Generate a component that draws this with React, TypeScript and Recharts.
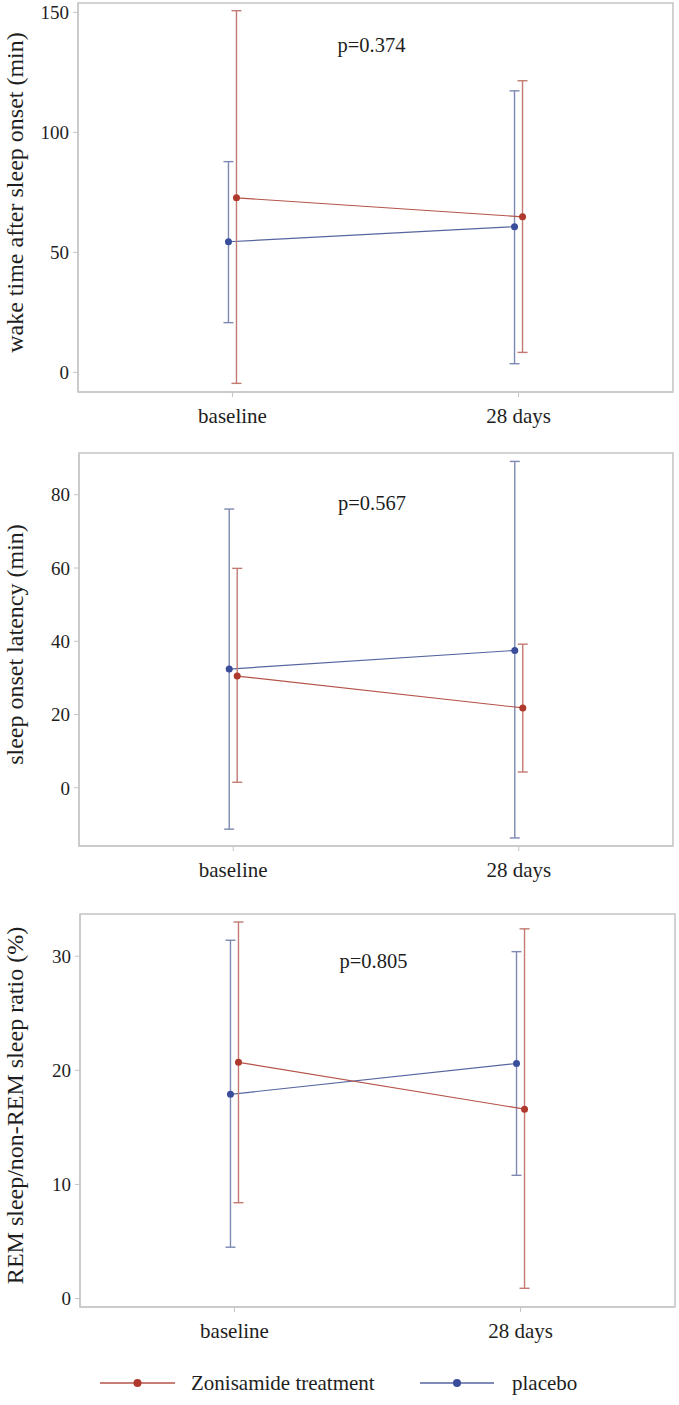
import { LineChart, Line, XAxis, YAxis, ErrorBar, ReferenceArea, ReferenceDot } from 'recharts';

const timepoints = ['baseline', '28 days'];
const seriesNames = ['Zonisamide treatment', 'placebo'];

// wake time after sleep onset (min)
const wasoZoniMean = [72.7, 64.8];
const wasoZoniLow = [-4.6, 8.3];
const wasoZoniHigh = [150.7, 121.5];
const wasoPlacMean = [54.4, 60.7];
const wasoPlacLow = [20.7, 3.6];
const wasoPlacHigh = [87.8, 117.3];
const wasoTicks = [0, 50, 100, 150];

// sleep onset latency (min)
const solZoniMean = [30.5, 21.8];
const solZoniLow = [1.5, 4.3];
const solZoniHigh = [59.9, 39.2];
const solPlacMean = [32.4, 37.5];
const solPlacLow = [-11.3, -13.7];
const solPlacHigh = [76.1, 89.1];
const solTicks = [0, 20, 40, 60, 80];

// REM / non-REM ratio (%)
const remZoniMean = [20.7, 16.6];
const remZoniLow = [8.4, 0.9];
const remZoniHigh = [33.0, 32.4];
const remPlacMean = [17.9, 20.6];
const remPlacLow = [4.5, 10.8];
const remPlacHigh = [31.4, 30.4];
const remTicks = [0, 10, 20, 30];

const pValues = ['p=0.374', 'p=0.567', 'p=0.805'];

const FONT = '"Liberation Serif", "Times New Roman", serif';
const TEXT = '#1e1e1e';
const FRAME = '#c4c4c4';
const ZONI = { marker: '#b0392d', line: '#b55349', err: '#c27a72' };
const PLAC = { marker: '#3a4d9b', line: '#56659f', err: '#7d89b2' };
const X_DOMAIN = [-0.54, 1.54];
const SHIFT = 0.014; // groups are dodged a little around each time point

type Row = { x: number; y: number; err: [number, number] };

function buildRows(mean: number[], low: number[], high: number[], shift: number): Row[] {
  return mean.map((m, i) => ({ x: i + shift, y: m, err: [m - low[i], high[i] - m] }));
}

type PanelProps = {
  top: number;
  height: number;
  marginTop: number;
  xAxisHeight: number;
  left: number;
  right: number;
  yDomain: [number, number];
  yTicks: number[];
  yLabel: string;
  pText: string;
  pY: number;
  zoni: Row[];
  plac: Row[];
};

function Panel(p: PanelProps) {
  const yLabel = (props: any) => {
    const vb = props.viewBox;
    const cy = vb.y + vb.height / 2 - 5;
    return (
      <text
        x={23}
        y={cy}
        transform={`rotate(-90, 23, ${cy})`}
        textAnchor="middle"
        fontSize={24}
        fontFamily={FONT}
        fill={TEXT}
      >
        {p.yLabel}
      </text>
    );
  };

  return (
    <div style={{ position: 'absolute', left: 0, top: p.top }}>
      <LineChart
        width={679}
        height={p.height}
        margin={{ top: p.marginTop, right: 679 - p.right, left: 0, bottom: 0 }}
      >
        <XAxis
          type="number"
          dataKey="x"
          domain={X_DOMAIN}
          ticks={[0, 1]}
          allowDataOverflow
          tickFormatter={(v: number) => timepoints[Math.round(v)]}
          height={p.xAxisHeight}
          tickSize={5}
          tickMargin={11}
          stroke={FRAME}
          tick={{ fontSize: 21, fill: TEXT, fontFamily: FONT }}
        />
        <YAxis
          type="number"
          domain={p.yDomain}
          ticks={p.yTicks}
          allowDataOverflow
          width={p.left}
          tickSize={5}
          tickMargin={4}
          stroke={FRAME}
          tick={{ fontSize: 19, fill: TEXT, fontFamily: FONT }}
          label={{ content: yLabel }}
        />
        <ReferenceArea
          x1={X_DOMAIN[0]}
          x2={X_DOMAIN[1]}
          y1={p.yDomain[0]}
          y2={p.yDomain[1]}
          fill="none"
          stroke={FRAME}
          strokeWidth={1.5}
          ifOverflow="visible"
        />
        <Line
          data={p.plac}
          dataKey="y"
          name={seriesNames[1]}
          stroke={PLAC.line}
          strokeWidth={1.2}
          dot={{ r: 3.5, fill: PLAC.marker, stroke: PLAC.marker, strokeWidth: 0 }}
          isAnimationActive={false}
        >
          <ErrorBar dataKey="err" direction="y" width={5} stroke={PLAC.err} strokeWidth={1.4} isAnimationActive={false} />
        </Line>
        <Line
          data={p.zoni}
          dataKey="y"
          name={seriesNames[0]}
          stroke={ZONI.line}
          strokeWidth={1.2}
          dot={{ r: 3.5, fill: ZONI.marker, stroke: ZONI.marker, strokeWidth: 0 }}
          isAnimationActive={false}
        >
          <ErrorBar dataKey="err" direction="y" width={5} stroke={ZONI.err} strokeWidth={1.4} isAnimationActive={false} />
        </Line>
        <ReferenceDot
          x={0.486}
          y={p.pY}
          r={0}
          fill="none"
          stroke="none"
          ifOverflow="visible"
          label={{ value: p.pText, position: 'center', fontSize: 20.5, fill: TEXT, fontFamily: FONT }}
        />
      </LineChart>
    </div>
  );
}

function LegendRow() {
  const items = [
    { name: seriesNames[0], c: ZONI, x1: 100, x2: 175, tx: 191 },
    { name: seriesNames[1], c: PLAC, x1: 420, x2: 494, tx: 512 },
  ];
  return (
    <svg width={679} height={44} style={{ position: 'absolute', left: 0, top: 1361 }}>
      {items.map((it) => (
        <g key={it.name}>
          <line x1={it.x1} x2={it.x2} y1={22} y2={22} stroke={it.c.line} strokeWidth={1.6} />
          <circle cx={(it.x1 + it.x2) / 2} cy={22} r={4} fill={it.c.marker} />
          <text x={it.tx} y={29} fontSize={21} fontFamily={FONT} fill={TEXT}>
            {it.name}
          </text>
        </g>
      ))}
    </svg>
  );
}

export default function App() {
  return (
    <div style={{ position: 'absolute', left: 0, top: 0, width: 679, height: 1405, background: '#fff' }}>
      <Panel
        top={0}
        height={440}
        marginTop={3}
        xAxisHeight={48}
        left={78}
        right={673}
        yDomain={[-8.2, 153.9]}
        yTicks={wasoTicks}
        yLabel="wake time after sleep onset (min)"
        pText={pValues[0]}
        pY={136.5}
        zoni={buildRows(wasoZoniMean, wasoZoniLow, wasoZoniHigh, SHIFT)}
        plac={buildRows(wasoPlacMean, wasoPlacLow, wasoPlacHigh, -SHIFT)}
      />
      <Panel
        top={440}
        height={460}
        marginTop={13}
        xAxisHeight={54}
        left={79}
        right={673}
        yDomain={[-15.9, 91.4]}
        yTicks={solTicks}
        yLabel="sleep onset latency (min)"
        pText={pValues[1]}
        pY={77.9}
        zoni={buildRows(solZoniMean, solZoniLow, solZoniHigh, SHIFT)}
        plac={buildRows(solPlacMean, solPlacLow, solPlacHigh, -SHIFT)}
      />
      <Panel
        top={880}
        height={480}
        marginTop={34}
        xAxisHeight={53}
        left={80}
        right={675}
        yDomain={[-0.74, 33.7]}
        yTicks={remTicks}
        yLabel="REM sleep/non-REM sleep ratio (%)"
        pText={pValues[2]}
        pY={29.6}
        zoni={buildRows(remZoniMean, remZoniLow, remZoniHigh, SHIFT)}
        plac={buildRows(remPlacMean, remPlacLow, remPlacHigh, -SHIFT)}
      />
      <LegendRow />
    </div>
  );
}
